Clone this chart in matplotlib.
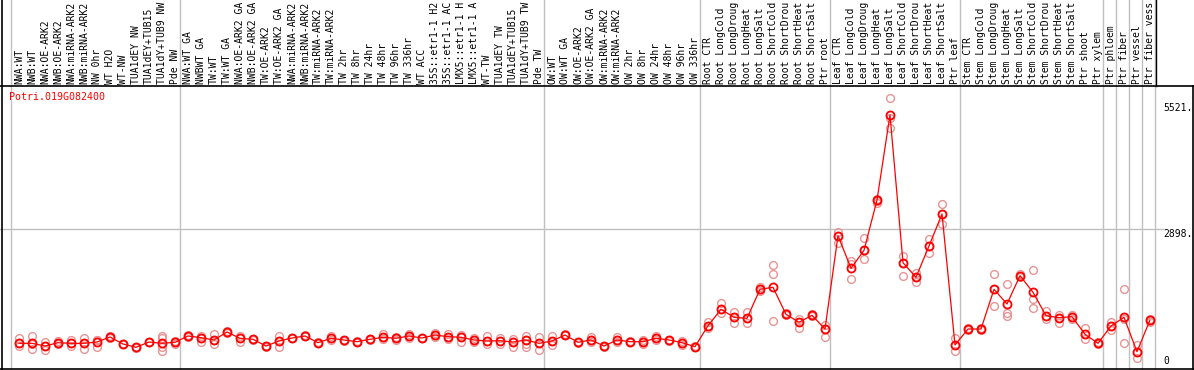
import matplotlib
matplotlib.use("Agg")
import matplotlib.pyplot as plt
import matplotlib.transforms as mtransforms

title = "Potri.019G082400"

# sample labels as they are visible in the header (long ones are cut at the top)
samples = [
    "NWA:WT", "NWB:WT", "NWA:OE-ARK2", "NWB:OE-ARK2", "NWA:miRNA-ARK2", "NWB:miRNA-ARK2",
    "NW 0hr", "WT H2O", "WT-NW", "TUA1dEY NW", "TUA1dEY+TUB15", "TUA1dY+TUB9 NW", "Pde NW",
    "NWA:WT GA", "NWBWT GA", "TW:WT", "TW:WT GA", "NWA:OE-ARK2 GA", "NWB:OE-ARK2 GA",
    "TW:OE-ARK2", "TW:OE-ARK2 GA", "NWA:miRNA-ARK2", "NWB:miRNA-ARK2", "TW:miRNA-ARK2",
    "TW:miRNA-ARK2", "TW 2hr", "TW 8hr", "TW 24hr", "TW 48hr", "TW 96hr", "TW 336hr",
    "WT ACC", "35S::etr1-1 H2", "35S::etr1-1 AC", "LMX5::etr1-1 H", "LMX5::etr1-1 A",
    "WT-TW", "TUA1dEY TW", "TUA1dEY+TUB15", "TUA1dY+TUB9 TW", "Pde TW",
    "OW:WT", "OW:WT GA", "OW:OE-ARK2", "OW:OE-ARK2 GA", "OW:miRNA-ARK2", "OW:miRNA-ARK2",
    "OW 2hr", "OW 8hr", "OW 24hr", "OW 48hr", "OW 96hr", "OW 336hr",
    "Root CTR", "Root LongCold", "Root LongDroug", "Root LongHeat", "Root LongSalt",
    "Root ShortCold", "Root ShortDrou", "Root ShortHeat", "Root ShortSalt", "Ptr root",
    "Leaf CTR", "Leaf LongCold", "Leaf LongDroug", "Leaf LongHeat", "Leaf LongSalt",
    "Leaf ShortCold", "Leaf ShortDrou", "Leaf ShortHeat", "Leaf ShortSalt", "Ptr leaf",
    "Stem CTR", "Stem LongCold", "Stem LongDroug", "Stem LongHeat", "Stem LongSalt",
    "Stem ShortCold", "Stem ShortDrou", "Stem ShortHeat", "Stem ShortSalt", "Ptr shoot",
    "Ptr xylem", "Ptr phloem", "Ptr fiber", "Ptr vessel", "Ptr fiber vess",
]

# index of first sample of each group (group separators)
group_starts = [0, 13, 41, 53, 63, 73, 84, 85, 86, 87, 88]

means = [
    522, 522, 466, 535, 522, 522, 549, 653, 508, 439, 549, 522, 543,
    674, 639, 591, 757, 626, 605, 466, 570, 632, 674, 535, 626, 591, 556, 605,
    647, 626, 674, 632, 694, 660, 647, 591, 570, 576, 549, 591, 522,
    570, 694, 543, 591, 466, 591, 556, 556, 626, 591, 535, 452,
    887, 1227, 1061, 1040, 1642, 1683, 1123, 958, 1103, 819,
    2753, 2077, 2450, 3493, 5255, 2193, 1891, 2539, 3203, 487,
    819, 819, 1642, 1337, 1924, 1580, 1095, 1054, 1074, 709, 522,
    881, 1061, 348, 1005,
]

replicates = [
    [626, 522, 466], [680, 500, 404], [543, 466, 383], [576, 535, 514],
    [591, 522, 466], [639, 522, 404], [591, 600, 439], [670, 653, 640],
    [515, 508, 500], [445, 439, 430], [555, 549, 540], [674, 626, 452, 369],
    [576, 543, 514],
    [690, 674, 660], [680, 639, 556], [715, 591, 514], [770, 757, 745],
    [674, 626, 556], [615, 605, 595], [475, 466, 455], [680, 570, 452],
    [640, 632, 625], [685, 674, 665], [545, 535, 525], [674, 626, 591],
    [600, 591, 580], [565, 556, 545], [615, 605, 595], [708, 647, 620],
    [646, 626, 600], [708, 674, 639], [640, 632, 625], [729, 694, 660],
    [708, 660, 604], [694, 647, 556], [639, 591, 543], [680, 570, 514],
    [639, 576, 508], [605, 549, 452], [674, 591, 508, 452], [646, 522, 383],
    [674, 570, 480], [705, 694, 685], [550, 543, 535], [646, 591, 543],
    [475, 466, 455], [660, 591, 543], [565, 556, 545], [591, 556, 508],
    [680, 626, 591], [600, 591, 580], [576, 535, 480], [460, 452, 445],
    [970, 887, 833], [1364, 1227, 1144], [1165, 1061, 937], [1165, 1040, 950],
    [1696, 1642, 1600], [2146, 1953, 991], [1160, 1123, 1100], [1026, 958, 846],
    [1120, 1103, 1085], [902, 819, 659],
    [2836, 2753, 2595], [2228, 2160, 1849], [2699, 2450, 2264], [3520, 3479, 3437],
    [5601, 5187, 4979], [2332, 2193, 1924], [1973, 1891, 1793], [2685, 2539, 2388],
    [3404, 3203, 2996], [626, 487, 369],
    [840, 819, 800], [840, 819, 800], [1953, 1642, 1302], [1752, 1144, 1095],
    [1953, 1924, 1900], [2036, 1434, 1261], [1192, 1095, 1020], [1100, 1054, 950],
    [1100, 1074, 1020], [833, 709, 611], [540, 522, 505],
    [958, 881, 798], [1642, 1020, 522], [487, 348, 224], [1026, 1005, 970],
]

tick_values = [5521, 2898, 0]
tick_labels = ["5521.", "2898.", "0"]

# ---------------- layout (pixel based) ----------------
W, H = 1194, 370
fig = plt.figure(figsize=(W / 100, H / 100), dpi=100)
ax = fig.add_axes([0, 0, 1, 1])
ax.set_axis_off()

x0_pix, pitch = 19.0, 13.0
ax.set_xlim(-x0_pix / pitch, (W - x0_pix) / pitch)
ppu = 0.04824          # pixels per unit
zero_top = 368.5       # pixel row (from top) of value 0
ax.set_ylim(-(H - zero_top) / ppu, zero_top / ppu)

def yfrac(ytop):
    return 1 - ytop / H

def val_top(v):
    return zero_top - v * ppu

trans = mtransforms.blended_transform_factory(ax.transData, ax.transAxes)
ftrans = fig.transFigure

mono = "DejaVu Sans Mono"
header_bottom = 85.5
plot_right = 1155.7

# vertical grey separators
for g in group_starts:
    xg = g - 0.6
    ax.plot([xg, xg], [0, 1], transform=trans, color="#c0c0c0", lw=1.0, zorder=1,
            clip_on=False)

# horizontal grid line at middle tick
ax.plot([0, 1163 / W], [yfrac(val_top(2898))] * 2, transform=ftrans, color="#c0c0c0",
        lw=1.0, zorder=1)

# borders
ax.plot([0, 1], [yfrac(header_bottom)] * 2, transform=ftrans, color="black", lw=1.2, zorder=2)
ax.plot([0, 1], [yfrac(369.3)] * 2, transform=ftrans, color="black", lw=1.2, zorder=2)
ax.plot([1.5 / W] * 2, [0, 1], transform=ftrans, color="black", lw=1.2, zorder=2)
ax.plot([1193 / W] * 2, [yfrac(369.3), yfrac(header_bottom)], transform=ftrans,
        color="black", lw=1.2, zorder=2)
ax.plot([plot_right / W] * 2, [yfrac(header_bottom), 1], transform=ftrans,
        color="black", lw=1.0, zorder=2)

# header labels
for i, s in enumerate(samples):
    ax.text(i, yfrac(83.5), s, transform=trans, rotation=90, ha="center", va="bottom",
            fontsize=7, family=mono, color="black", clip_on=False)

# title
fig.text(9.5 / W, yfrac(97), title, color="red", fontsize=7.2, family=mono,
         ha="left", va="center")

# y tick labels
for v, lab in zip(tick_values, tick_labels):
    if v == 0:
        fig.text(1163 / W, yfrac(365.5), lab, fontsize=7, family=mono, ha="left", va="bottom")
    else:
        fig.text(1163 / W, yfrac(val_top(v) + 0.5), lab, fontsize=7, family=mono,
                 ha="left", va="top")

# replicates
for i, reps in enumerate(replicates):
    ax.plot([i] * len(reps), reps, linestyle="none", marker="o", markersize=5.6,
            markerfacecolor="none", markeredgecolor="#e89494", markeredgewidth=1.0,
            zorder=3)

# means
xs = list(range(len(means)))
ax.plot(xs, means, color="red", lw=0.9, zorder=4)
ax.plot(xs, means, linestyle="none", marker="o", markersize=5.8, markerfacecolor="none",
        markeredgecolor="red", markeredgewidth=1.3, zorder=5)

fig.savefig("out.png", dpi=100)
